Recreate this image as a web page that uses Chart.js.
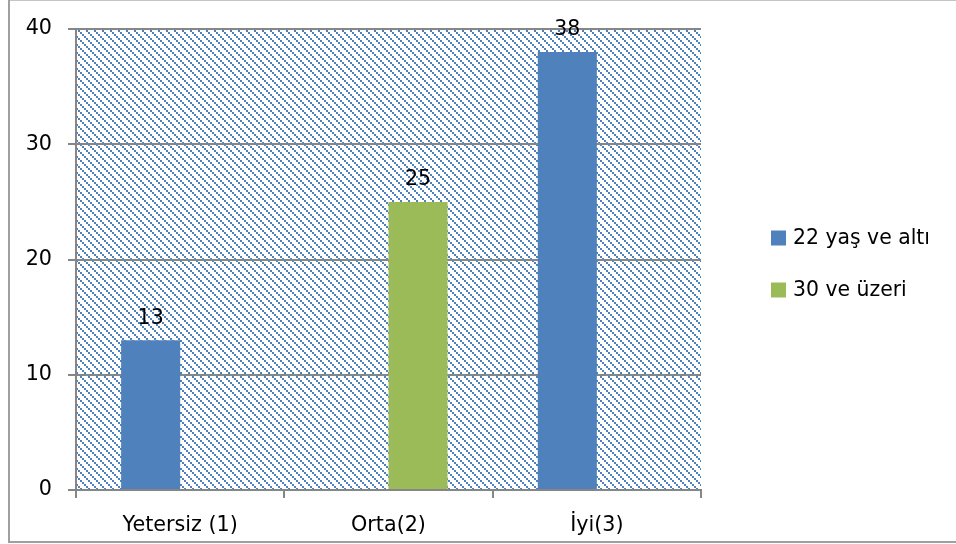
<!DOCTYPE html>
<html>
<head>
<meta charset="utf-8">
<script src="https://cdn.jsdelivr.net/npm/chart.js@4.4.1/dist/chart.umd.min.js"></script>
<style>
  html, body { margin: 0; padding: 0; background: #ffffff; }
  #wrap { width: 956px; height: 544px; position: relative; }
</style>
</head>
<body>
<div id="wrap"><canvas id="c" width="956" height="544"></canvas></div>
<script>
// Categories and series values
const categories = ['Yetersiz (1)', 'Orta(2)', 'İyi(3)'];
const seriesNames = ['22 yaş ve altı', '30 ve üzeri'];
const youngValues = [13, null, 38];
const olderValues = [null, 25, null];
const yTickValues = [0, 10, 20, 30, 40];

const FONT = 'DejaVu Sans';
const AXIS_GRAY = '#868686';
const BLUE = '#4f81bd';
const GREEN = '#9bbb59';

// Diagonal hatch used as the plot background
function makeHatch(ctx) {
  const c = document.createElement('canvas');
  c.width = 8; c.height = 8;
  const p = c.getContext('2d');
  p.fillStyle = '#4f81bd';
  for (let k = 0; k < 4; k++) p.fillRect(2 * k, 2 * k, 2, 2);
  return ctx.createPattern(c, 'repeat');
}

const plotBackground = {
  id: 'plotBackground',
  beforeDraw(chart) {
    const { ctx, chartArea: a } = chart;
    ctx.save();
    ctx.fillStyle = makeHatch(ctx);
    ctx.fillRect(a.left, a.top, a.right - a.left, a.bottom - a.top);
    ctx.restore();
  }
};

const valueLabels = {
  id: 'valueLabels',
  afterDatasetsDraw(chart) {
    const ctx = chart.ctx;
    ctx.save();
    ctx.font = '20.5px "' + FONT + '"';
    ctx.fillStyle = '#000000';
    ctx.textAlign = 'center';
    ctx.textBaseline = 'middle';
    chart.data.datasets.forEach((ds, i) => {
      const meta = chart.getDatasetMeta(i);
      meta.data.forEach((el, j) => {
        const v = ds.data[j];
        if (v === null || v === undefined) return;
        ctx.fillText(String(v), el.x, el.y - 22);
      });
    });
    ctx.restore();
  }
};

const sideLegend = {
  id: 'sideLegend',
  afterDraw(chart) {
    const { ctx, chartArea: a } = chart;
    const boxX = a.right + 70;
    const midY = (a.top + a.bottom) / 2 + 4.5;
    const gap = 52;
    ctx.save();
    ctx.font = '20.4px "' + FONT + '"';
    ctx.textAlign = 'left';
    ctx.textBaseline = 'middle';
    chart.data.datasets.forEach((ds, i) => {
      const cy = midY + (i - (chart.data.datasets.length - 1) / 2) * gap;
      ctx.fillStyle = ds.backgroundColor;
      ctx.fillRect(boxX, cy - 7.5, 15, 15);
      ctx.fillStyle = '#000000';
      ctx.fillText(ds.label, boxX + 22, cy + 1);
    });
    // outer frame
    ctx.lineWidth = 1;
    ctx.strokeStyle = '#c4c4c4';
    ctx.beginPath(); ctx.moveTo(8, 0.5); ctx.lineTo(956, 0.5); ctx.stroke();
    ctx.strokeStyle = '#a0a0a0';
    ctx.lineWidth = 2;
    ctx.beginPath(); ctx.moveTo(9, 0); ctx.lineTo(9, 542); ctx.stroke();
    ctx.beginPath(); ctx.moveTo(8, 542); ctx.lineTo(956, 542); ctx.stroke();
    ctx.restore();
  }
};

new Chart(document.getElementById('c'), {
  type: 'bar',
  data: {
    labels: categories,
    datasets: [
      { label: seriesNames[0], data: youngValues, backgroundColor: BLUE },
      { label: seriesNames[1], data: olderValues, backgroundColor: GREEN }
    ]
  },
  options: {
    responsive: false,
    animation: false,
    devicePixelRatio: 1,
    layout: { padding: { left: 0, right: 255, top: 29, bottom: 0 } },
    datasets: { bar: { categoryPercentage: 0.567, barPercentage: 1.0 } },
    plugins: { legend: { display: false }, tooltip: { enabled: false } },
    scales: {
      x: {
        grid: { display: true, drawOnChartArea: false, drawTicks: true, tickLength: 8,
                color: AXIS_GRAY, lineWidth: 2, offset: true },
        border: { display: true, color: AXIS_GRAY, width: 2 },
        ticks: { font: { family: FONT, size: 20.7 }, color: '#000000', padding: 15, maxRotation: 0 },
        afterFit(s) { s.height = 54; }
      },
      y: {
        min: yTickValues[0],
        max: yTickValues[yTickValues.length - 1],
        afterBuildTicks(s) { s.ticks = yTickValues.map(v => ({ value: v })); },
        grid: { color: AXIS_GRAY, lineWidth: 2, tickLength: 8 },
        border: { display: true, color: AXIS_GRAY, width: 2 },
        ticks: { font: { family: FONT, size: 20.7 }, color: '#000000', padding: 16 },
        afterFit(s) { s.width = 76; }
      }
    }
  },
  plugins: [plotBackground, valueLabels, sideLegend]
});
</script>
</body>
</html>
